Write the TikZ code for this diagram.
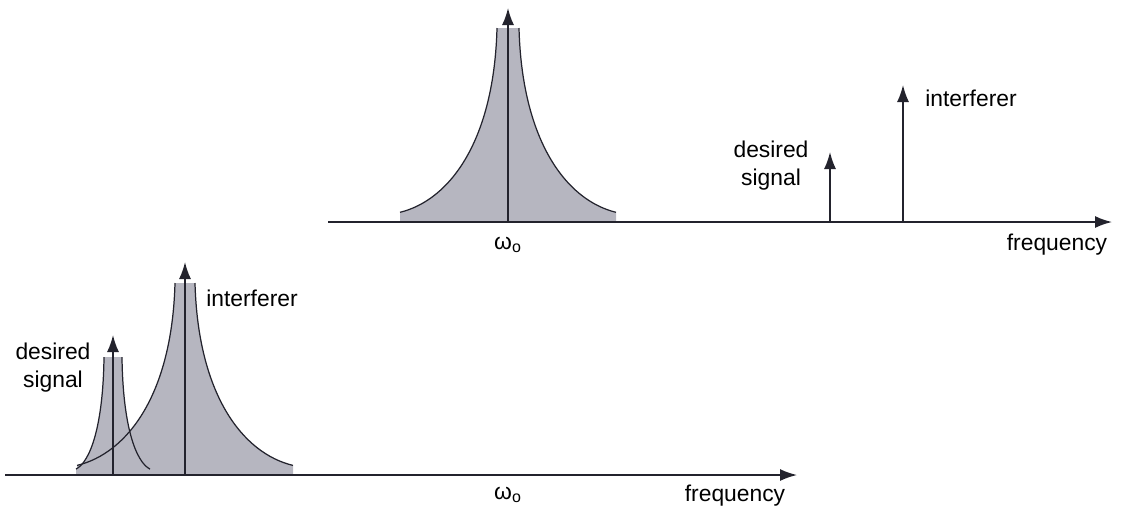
\documentclass[tikz,border=0pt]{standalone}
\usepackage{fontspec}
\setmainfont{Liberation Sans}
\usetikzlibrary{arrows.meta}
\definecolor{peakgray}{RGB}{182,182,192}
\definecolor{axisblack}{RGB}{35,35,45}

\begin{document}
\begin{tikzpicture}[x=0.02cm, y=-0.02cm, >={Latex[length=3.4mm,width=2.4mm]},
    lbl/.style={font=\fontsize{13}{16}\selectfont, inner sep=0pt, align=center},
    spec/.style={->, line width=0.9pt, axisblack},
    edge/.style={line width=0.7pt, axisblack}]
    \useasboundingbox (0,0) rectangle (1123,512);

    % peaks: centre/base/flat half-width/tail/height
    \foreach \cx/\base/\f/\w/\h in {508/222/11/108/194, 185/475/10/108/192, 113/475/9/37/118} {
        \pgfmathsetmacro{\ca}{\f+0.485*(\w-\f)}
        \pgfmathsetmacro{\cb}{\f+0.03*(\w-\f)}
        \fill[peakgray, shift={(\cx,\base)}] (-\w,0) -- (-\w,-0.05*\h)
            .. controls (-\ca,-0.113*\h) and (-\cb,-0.42*\h) .. (-\f,-\h)
            -- (\f,-\h)
            .. controls (\cb,-0.42*\h) and (\ca,-0.113*\h) .. (\w,-0.05*\h)
            -- (\w,0) -- cycle;
    }
    \foreach \cx/\base/\f/\w/\h in {508/222/11/108/194, 185/475/10/108/192, 113/475/9/37/118} {
        \pgfmathsetmacro{\ca}{\f+0.485*(\w-\f)}
        \pgfmathsetmacro{\cb}{\f+0.03*(\w-\f)}
        \draw[edge, shift={(\cx,\base)}] (-\w,-0.05*\h)
            .. controls (-\ca,-0.113*\h) and (-\cb,-0.42*\h) .. (-\f,-\h);
        \draw[edge, shift={(\cx,\base)}] (\w,-0.05*\h)
            .. controls (\ca,-0.113*\h) and (\cb,-0.42*\h) .. (\f,-\h);
    }

    % top spectrum
    \coordinate (topL) at (328,222);
    \coordinate (topR) at (1112,222);
    \draw[spec] (topL) -- (topR);
    \coordinate (lo) at (508,222);
    \coordinate (loTip) at (508,8);
    \coordinate (sigA) at (830,222);
    \coordinate (sigATip) at (830,152);
    \coordinate (intA) at (903,222);
    \coordinate (intATip) at (903,85);
    \draw[spec] (lo) -- (loTip);
    \draw[spec] (sigA) -- (sigATip);
    \draw[spec] (intA) -- (intATip);
    \node[lbl] (sigAlbl) at (771,166) {desired\\signal};
    \node[lbl] (intAlbl) at (971,98) {interferer};
    \node[lbl] (loA) at (508,245) {ω\textsubscript{o}};
    \node[lbl] (freqA) at (1057,245) {frequency};

    % bottom spectrum
    \coordinate (botL) at (5,475);
    \coordinate (botR) at (797,475);
    \draw[spec] (botL) -- (botR);
    \coordinate (sigB) at (113,475);
    \coordinate (sigBTip) at (113,335);
    \coordinate (intB) at (185,475);
    \coordinate (intBTip) at (185,262);
    \draw[spec] (sigB) -- (sigBTip);
    \draw[spec] (intB) -- (intBTip);
    \node[lbl] (sigBlbl) at (53,368) {desired\\signal};
    \node[lbl] (intBlbl) at (252,298) {interferer};
    \node[lbl] (loB) at (508,495) {ω\textsubscript{o}};
    \node[lbl] (freqB) at (735,496) {frequency};
\end{tikzpicture}
\end{document}
